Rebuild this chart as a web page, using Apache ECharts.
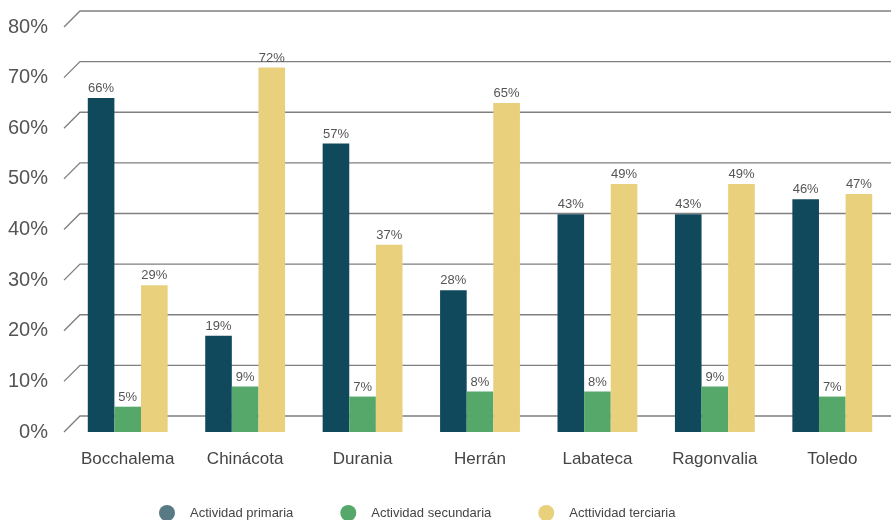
<!DOCTYPE html>
<html><head><meta charset="utf-8">
<script src="https://cdn.jsdelivr.net/npm/echarts@6/dist/echarts.min.js"></script>
<style>html,body{margin:0;padding:0;background:#fff}#c{width:891px;height:520px}</style>
</head><body><div id="c"></div>
<script>
const categories = ['Bocchalema','Chinácota','Durania','Herrán','Labateca','Ragonvalia','Toledo'];
const seriesNames = ['Actividad primaria','Actividad secundaria','Acttividad terciaria'];
const primaria = [66, 19, 57, 28, 43, 43, 46];
const secundaria = [5, 9, 7, 8, 8, 9, 7];
const terciaria = [29, 72, 37, 65, 49, 49, 47];
const yTicks = [0, 10, 20, 30, 40, 50, 60, 70, 80];

const FONT = '"Liberation Sans","Arial",sans-serif';
const colors = ['#11495c', '#55a86a', '#e8d07c'];
const legendColors = ['#587a85', '#55a86a', '#e8d07c'];

const chart = echarts.init(document.getElementById('c'));
const barLabel = {show: true, position: 'top', distance: 3, formatter: '{c}%', color: '#555', fontSize: 13, fontFamily: FONT};
function bar(name, data, i) {
  return {name, type: 'bar', data, barGap: '0%', barCategoryGap: '32%', z: 3,
    itemStyle: {color: colors[i]}, label: barLabel};
}
chart.setOption({
  animation: false,
  grid: {left: 69, right: 0, top: 27, bottom: 88, containLabel: false},
  xAxis: {type: 'category', data: categories, axisLine: {show: false}, axisTick: {show: false},
    axisLabel: {interval: 0, color: '#444', fontSize: 17, fontFamily: FONT, margin: 19}},
  yAxis: {type: 'value', min: 0, max: 80, interval: 10, splitLine: {show: false},
    axisLine: {show: false}, axisTick: {show: false},
    axisLabel: {formatter: '{value}%', color: '#555', fontSize: 20, fontFamily: FONT, margin: 21}},
  legend: {bottom: -6, left: 154, itemGap: 47, itemWidth: 16, itemHeight: 16, icon: 'circle',
    textStyle: {color: '#444', fontSize: 13, fontFamily: FONT, padding: [0, 0, 0, 10]},
    data: seriesNames.map((n, i) => ({name: n, itemStyle: {color: legendColors[i]}}))},
  series: [
    {type: 'custom', silent: true, z: 1, clip: false,
      data: yTicks.map(v => [0, v]),
      renderItem: function (params, api) {
        const cs = params.coordSys;
        const y = api.coord([0, api.value(1)])[1];
        return {type: 'polyline', shape: {points: [[cs.x - 5, y], [cs.x + 11, y - 16], [cs.x + cs.width, y - 16]]},
          style: {stroke: '#808080', lineWidth: 1.4, fill: null}};
      }},
    bar(seriesNames[0], primaria, 0),
    bar(seriesNames[1], secundaria, 1),
    bar(seriesNames[2], terciaria, 2)
  ]
});
</script></body></html>
